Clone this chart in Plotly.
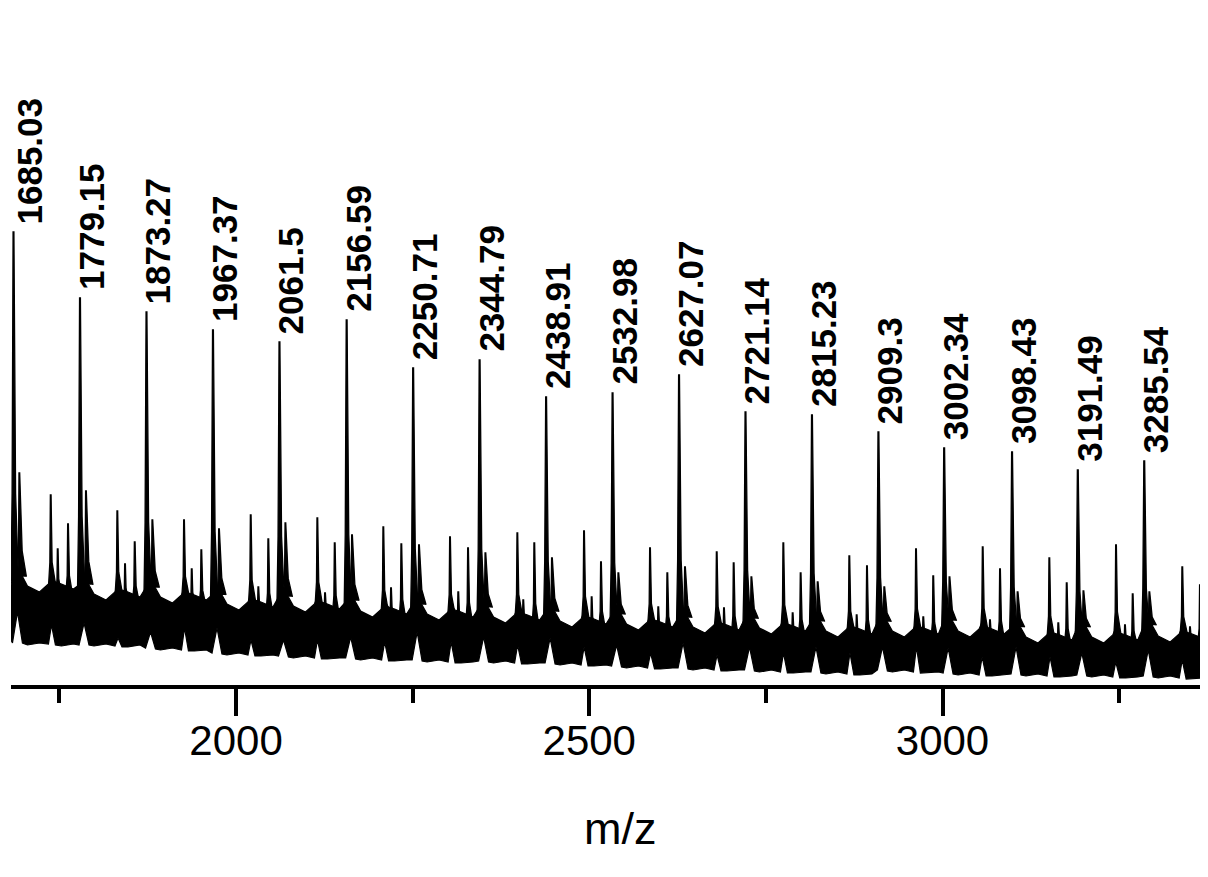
import numpy as np
import plotly.graph_objects as go

# ---------------- data ----------------
# labelled main peaks: m/z and intensity (a.u.)
main_labels = ["1685.03", "1779.15", "1873.27", "1967.37", "2061.5", "2156.59",
               "2250.71", "2344.79", "2438.91", "2532.98", "2627.07", "2721.14",
               "2815.23", "2909.3", "3002.34", "3098.43", "3191.49", "3285.54"]
main_mz = [1685.03, 1779.15, 1873.27, 1967.37, 2061.5, 2156.59,
           2250.71, 2344.79, 2438.91, 2532.98, 2627.07, 2721.14,
           2815.23, 2909.3, 3002.34, 3098.43, 3191.49, 3285.54]
main_int = [4530, 3870, 3730, 3550, 3430, 3650,
            3170, 3250, 2880, 2920, 3100, 2730,
            2700, 2530, 2370, 2330, 2150, 2240]

# shoulder peaks right next to each main peak
sat_mz = [1693.3, 1787.6, 1881.6, 1975.9, 2069.9, 2164.2, 2259.0, 2353.0, 2447.2,
          2541.2, 2635.5, 2729.5, 2823.3, 2917.6, 3009.9, 3106.3, 3199.5, 3292.8]
sat_int = [2120, 1940, 1650, 1560, 1620, 1500, 1400, 1320, 1270,
           1120, 1180, 1080, 1030, 980, 1080, 930, 940, 930]

# secondary peak series (between the main peaks)
a_mz = [1737.7, 1832.0, 1926.4, 2020.8, 2115.1, 2208.5, 2302.9, 2398.2, 2492.6,
        2586.0, 2680.4, 2774.7, 2868.1, 2962.5, 3056.9, 3151.2, 3245.6, 3339.4]
a_int = [1900, 1740, 1650, 1700, 1670, 1580, 1480, 1520, 1540,
         1370, 1330, 1420, 1290, 1360, 1380, 1270, 1400, 1180]

b_mz = [1747.6, 1842.9, 1937.3, 2031.6, 2126.0, 2219.4, 2314.6, 2406.6, 2503.4,
        2597.7, 2690.7, 2787.9, 2878.5, 2972.8, 3067.2, 3163.9, 3258.3, 3350.3]
b_int = [1360, 1210, 1160, 980, 920, 970, 930, 850, 880,
         780, 770, 720, 700, 680, 650, 620, 600, 580]

c_mz = [1762.2, 1856.6, 1950.9, 2045.7, 2139.7, 2234.0, 2328.4, 2422.2, 2516.6,
        2610.5, 2704.4, 2799.2, 2893.1, 2986.9, 3081.4, 3175.8, 3269.2, 3364.4]
c_int = [1610, 1430, 1350, 1460, 1420, 1410, 1370, 1420, 1230,
         1120, 1220, 1120, 1190, 1090, 1160, 1020, 910, 1000]

# noisy baseline band: upper and lower envelope
band_mz = [1681.5,
           1683.6, 1690.7, 1697.7, 1704.8, 1721.8, 1734.5, 1738.8, 1744.4, 1752.9, 1769.9,
           1777.8, 1784.9, 1791.9, 1799.0, 1816.0, 1828.7, 1833.0, 1838.6, 1847.1, 1864.1,
           1871.9, 1879.0, 1886.0, 1893.1, 1910.1, 1922.8, 1927.1, 1932.7, 1941.2, 1958.2,
           1966.0, 1973.1, 1980.1, 1987.2, 2004.2, 2016.9, 2021.2, 2026.8, 2035.3, 2052.3,
           2060.1, 2067.2, 2074.2, 2081.3, 2098.3, 2111.0, 2115.3, 2120.9, 2129.4, 2146.4,
           2155.2, 2162.3, 2169.3, 2176.4, 2193.4, 2206.1, 2210.4, 2216.0, 2224.5, 2241.5,
           2249.3, 2256.4, 2263.4, 2270.5, 2287.5, 2300.2, 2304.5, 2310.1, 2318.6, 2335.6,
           2343.4, 2350.5, 2357.5, 2364.6, 2381.6, 2394.3, 2398.6, 2404.2, 2412.7, 2429.7,
           2437.5, 2444.6, 2451.6, 2458.7, 2475.7, 2488.4, 2492.7, 2498.3, 2506.8, 2523.8,
           2531.6, 2538.7, 2545.7, 2552.8, 2569.8, 2582.5, 2586.8, 2592.4, 2600.9, 2617.9,
           2625.7, 2632.8, 2639.8, 2646.9, 2663.9, 2676.6, 2680.9, 2686.5, 2695.0, 2712.0,
           2719.7, 2726.8, 2733.8, 2740.9, 2757.9, 2770.6, 2774.9, 2780.5, 2789.0, 2806.0,
           2813.8, 2820.9, 2827.9, 2835.0, 2852.0, 2864.7, 2869.0, 2874.6, 2883.1, 2900.1,
           2907.9, 2915.0, 2922.0, 2929.1, 2946.1, 2958.8, 2963.1, 2968.7, 2977.2, 2994.2,
           3000.9, 3008.0, 3015.0, 3022.1, 3039.1, 3051.8, 3056.1, 3061.7, 3070.2, 3087.2,
           3097.0, 3104.1, 3111.1, 3118.2, 3135.2, 3147.9, 3152.2, 3157.8, 3166.3, 3183.3,
           3190.1, 3197.2, 3204.2, 3211.3, 3228.3, 3241.0, 3245.3, 3250.9, 3259.4, 3276.4,
           3284.1, 3291.2, 3298.2, 3305.3, 3322.3, 3335.0, 3339.3, 3344.9, 3353.4, 3370.4,
           3376.0]
band_high = [1000,
             1080, 1180, 1080, 990, 930, 1010, 1080, 1030, 1010, 960,
             1000, 1100, 1000, 910, 850, 930, 1000, 950, 930, 880,
             970, 1070, 970, 880, 820, 900, 970, 920, 900, 850,
             900, 1000, 900, 810, 750, 830, 900, 850, 830, 780,
             880, 980, 880, 790, 730, 810, 880, 830, 810, 760,
             830, 930, 830, 740, 680, 760, 830, 780, 760, 710,
             800, 900, 800, 710, 650, 730, 800, 750, 730, 680,
             770, 870, 770, 680, 620, 700, 770, 720, 700, 650,
             730, 830, 730, 640, 580, 660, 730, 680, 660, 610,
             700, 800, 700, 610, 550, 630, 700, 650, 630, 580,
             670, 770, 670, 580, 520, 600, 670, 620, 600, 550,
             660, 760, 660, 570, 510, 590, 660, 610, 590, 540,
             630, 730, 630, 540, 480, 560, 630, 580, 560, 510,
             630, 730, 630, 540, 480, 560, 630, 580, 560, 510,
             630, 730, 630, 540, 480, 560, 630, 580, 560, 510,
             570, 670, 570, 480, 420, 500, 570, 520, 500, 450,
             570, 670, 570, 480, 420, 500, 570, 520, 500, 450,
             580, 680, 580, 490, 430, 510, 580, 530, 510, 460,
             460]
band_low = [450,
            420, 730, 420, 400, 420, 410, 600, 400, 390, 410,
            400, 620, 400, 390, 410, 390, 470, 380, 380, 400,
            370, 530, 360, 350, 370, 350, 570, 340, 340, 350,
            320, 570, 310, 300, 320, 300, 450, 290, 290, 300,
            290, 450, 280, 270, 290, 270, 450, 260, 260, 270,
            270, 480, 260, 250, 270, 250, 430, 240, 240, 250,
            250, 530, 240, 230, 250, 230, 430, 220, 220, 230,
            240, 480, 230, 220, 240, 220, 400, 210, 210, 220,
            220, 470, 210, 200, 220, 200, 380, 190, 190, 200,
            190, 400, 180, 170, 190, 170, 320, 160, 160, 170,
            170, 420, 160, 150, 170, 150, 300, 140, 140, 150,
            150, 380, 140, 130, 150, 130, 320, 120, 120, 130,
            130, 380, 120, 110, 130, 110, 320, 100, 100, 110,
            150, 380, 140, 130, 150, 130, 380, 120, 120, 130,
            120, 370, 110, 100, 120, 100, 280, 90, 90, 100,
            110, 380, 100, 90, 110, 90, 280, 80, 80, 90,
            100, 320, 90, 80, 100, 80, 230, 70, 70, 80,
            90, 350, 80, 70, 90, 70, 250, 60, 60, 70,
            70]

x_range = [1681.5, 3375.8]
y_range = [0, 6770]

# ---------------- build figure ----------------
fig = go.Figure()

# baseline band
fig.add_trace(go.Scatter(
    x=band_mz + band_mz[::-1], y=band_high + band_low[::-1],
    fill="toself", fillcolor="black", mode="lines",
    line=dict(color="black", width=1.2), hoverinfo="skip", showlegend=False))


def peak_shapes(mzs, ints, left, right, tw, ml, mr):
    xs, ys = [], []
    for m, h in zip(mzs, ints):
        b = float(np.interp(m, band_mz, band_high)) - 60
        mid = b + 0.25 * (h - b)
        xs += [m - left, m - ml, m - tw, m + tw, m + mr, m + right, None]
        ys += [b, mid, h, h, mid, b, None]
    return xs, ys


px_, py_ = [], []
for mzs, ints, l, r, tw, ml, mr in [
        (main_mz, main_int, 3.5, 7.0, 0.6, 2.0, 3.0),
        (sat_mz, sat_int, 2.0, 10.0, 0.5, 1.2, 4.0),
        (a_mz, a_int, 3.0, 7.0, 0.5, 1.2, 2.0),
        (b_mz, b_int, 2.0, 4.0, 0.5, 1.0, 1.5),
        (c_mz, c_int, 3.0, 6.0, 0.5, 1.2, 2.0)]:
    xs, ys = peak_shapes(mzs, ints, l, r, tw, ml, mr)
    px_ += xs
    py_ += ys

fig.add_trace(go.Scatter(
    x=px_, y=py_, fill="toself", fillcolor="black", mode="lines",
    line=dict(color="black", width=1.3), connectgaps=False,
    hoverinfo="skip", showlegend=False))

# peak labels
for i, (lab, m, h) in enumerate(zip(main_labels, main_mz, main_int)):
    fig.add_annotation(
        x=m, y=h, text="<b>" + lab + "</b>", textangle=-90,
        xanchor="left", yanchor="bottom", yshift=6,
        xshift=-5 if i == 0 else -10,
        showarrow=False,
        font=dict(family="Liberation Sans, Arial", size=35, color="black"))

# axis title
fig.add_annotation(
    xref="paper", yref="paper", x=0.509, y=0, yshift=-143,
    text="m/z", showarrow=False, xanchor="center", yanchor="middle",
    font=dict(family="Liberation Sans, Arial", size=45, color="black"))

fig.update_layout(
    width=1200, height=869,
    margin=dict(l=3, r=0, t=0, b=192),
    paper_bgcolor="white", plot_bgcolor="white",
    showlegend=False,
    xaxis=dict(
        range=x_range, showgrid=False, zeroline=False,
        showline=True, linecolor="black", linewidth=3.5,
        ticks="outside", tickmode="linear", tick0=0, dtick=500,
        ticklen=27, tickwidth=3.5, tickcolor="black",
        ticklabelstandoff=-11,
        tickfont=dict(family="Liberation Sans, Arial", size=42, color="black"),
        minor=dict(ticks="outside", dtick=250, tick0=0, ticklen=14,
                   tickwidth=3.5, tickcolor="black", showgrid=False),
    ),
    yaxis=dict(range=y_range, visible=False, showgrid=False, zeroline=False),
)

fig.write_html("out.html")
